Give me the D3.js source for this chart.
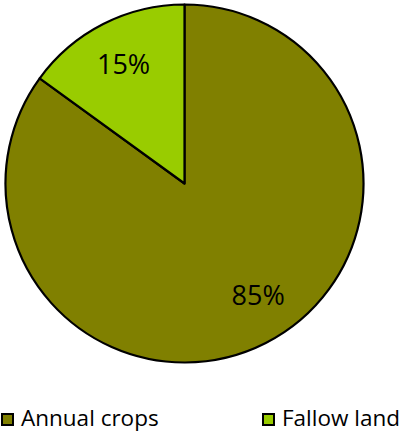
<!DOCTYPE html>
<html>
<head>
<meta charset="utf-8">
<script src="https://cdn.jsdelivr.net/npm/d3@7"></script>
<style>
  html, body { margin: 0; padding: 0; background: #fff; }
  svg { display: block; }
</style>
</head>
<body>
<svg id="chart" width="407" height="433"></svg>
<script>
(function () {
  'use strict';

  const categories = ['Annual crops', 'Fallow land'];
  const values = [85, 15];
  const colors = ['#808000', '#99CC00'];

  const svg = d3.select('#chart');
  const cx = 184.5, cy = 183.5, r = 179;
  const font = '"Open Sans", sans-serif';

  // start at 12 o'clock, clockwise; fallow slice ends back at the top
  const pie = d3.pie().sort(null).value((d) => d)
    .startAngle(0).endAngle(2 * Math.PI);
  const arcs = pie(values);
  const arc = d3.arc().innerRadius(0).outerRadius(r);

  const g = svg.append('g').attr('transform', `translate(${cx},${cy})`);
  g.selectAll('path').data(arcs).enter().append('path')
    .attr('d', arc)
    .attr('fill', (_, i) => colors[i])
    .attr('stroke', '#000')
    .attr('stroke-width', 2.2)
    .attr('stroke-linejoin', 'round');

  // labels sit around 3/4 of the radius; the big slice's label is nudged toward the vertical
  const labelR = r * 0.75;
  const labelPos = (d, i) => {
    let a = (d.startAngle + d.endAngle) / 2;
    if (i === 0) a -= 0.11;
    return [Math.sin(a) * labelR, -Math.cos(a) * labelR];
  };
  g.selectAll('text.pct').data(arcs).enter().append('text')
    .attr('class', 'pct')
    .attr('transform', (d, i) => `translate(${labelPos(d, i)})`)
    .attr('text-anchor', 'middle')
    .attr('dy', '0.36em')
    .style('font-family', font).style('font-size', '27px').style('fill', '#000')
    .text((d) => d.data + '%');

  // Legend
  const legendX = [1, 262];
  const leg = svg.append('g');
  categories.forEach((c, i) => {
    leg.append('rect')
      .attr('x', legendX[i] + 1).attr('y', 414)
      .attr('width', 11).attr('height', 11)
      .attr('fill', colors[i]).attr('stroke', '#000').attr('stroke-width', 2);
    leg.append('text')
      .attr('x', legendX[i] + 20).attr('y', 426)
      .style('font-family', font).style('font-size', '22.5px').style('fill', '#000')
      .text(c);
  });
})();
</script>
</body>
</html>
